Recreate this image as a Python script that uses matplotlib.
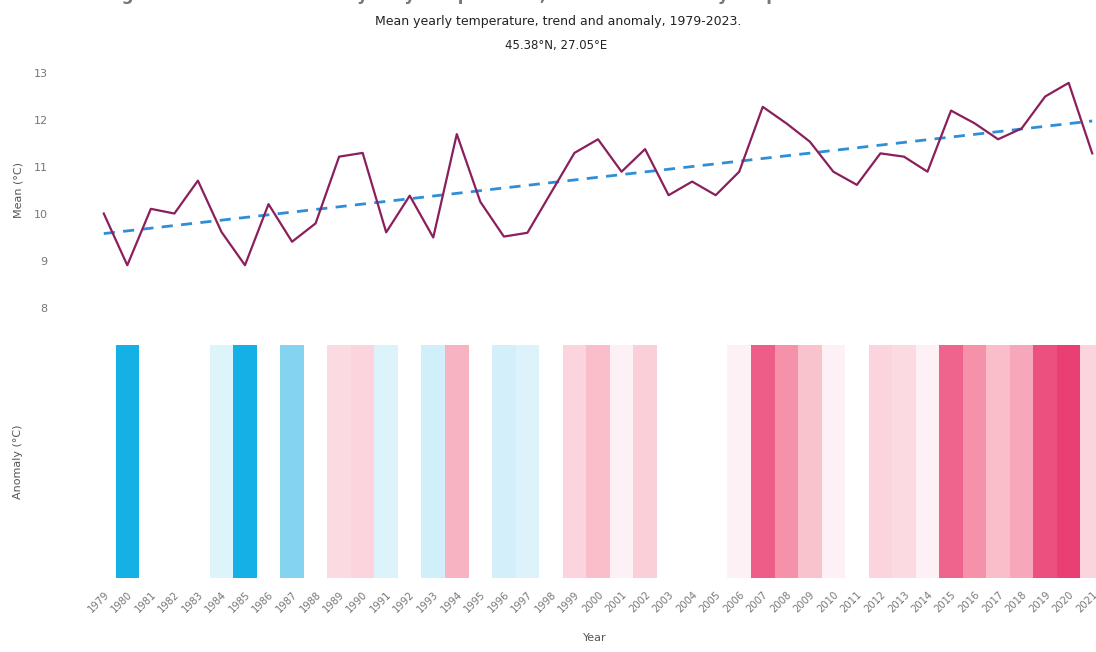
import numpy as np
import matplotlib
matplotlib.use("Agg")
import matplotlib.pyplot as plt
from matplotlib.colors import LinearSegmentedColormap, TwoSlopeNorm

# ---- data ----
years = list(range(1979, 2022))
temps = [10.01, 8.91, 10.11, 10.01, 10.71, 9.62, 8.91, 10.21, 9.41, 9.80,
         11.22, 11.30, 9.61, 10.39, 9.50, 11.70, 10.26, 9.52, 9.60, 10.45,
         11.30, 11.59, 10.90, 11.38, 10.40, 10.69, 10.40, 10.90, 12.28, 11.93,
         11.54, 10.90, 10.62, 11.29, 11.22, 10.90, 12.20, 11.93, 11.59, 11.82,
         12.50, 12.79, 11.29]
ytick_vals = [8, 9, 10, 11, 12, 13]
ytick_labels = ["8", "9", "10", "11", "12", "13"]
subtitle = "Mean yearly temperature, trend and anomaly, 1979-2023."
location = "45.38°N, 27.05°E"
top_title = "Climate change at the location: mean yearly temperature, trend and anomaly stripes"

x = np.array(years, dtype=float)
t = np.array(temps)
coef = np.polyfit(x, t, 1)
trend = np.polyval(coef, x)

# ---- figure ----
fig = plt.figure(figsize=(10.96, 6.52), dpi=100)
W, H = 1096.0, 652.0
left_px, right_px = 92, 1104
ax1 = fig.add_axes([left_px / W, 1 - 308 / H, (right_px - left_px) / W, 235 / H])
ax2 = fig.add_axes([left_px / W, 1 - 578 / H, (right_px - left_px) / W, 233 / H])

tick_color = "#777777"

# top: line + trend
ax1.plot(x, t, color="#8a1f5c", lw=1.6, zorder=3)
ax1.plot(x, trend, color="#2e8fd8", lw=2.0, linestyle=(0, (4, 3)), zorder=2)
ax1.set_xlim(1978.5, 2021.5)
ax1.set_ylim(8, 13)
ax1.set_yticks(ytick_vals)
ax1.set_yticklabels(ytick_labels)
ax1.set_xticks([])
ax1.tick_params(axis="y", length=0, pad=32, labelsize=8, labelcolor=tick_color)
for s in ax1.spines.values():
    s.set_visible(False)
ax1.set_ylabel("Mean (°C)", fontsize=8, color="#555555")
ax1.yaxis.set_label_coords(-0.068, 0.5)

# bottom: anomaly stripes
cmap = LinearSegmentedColormap.from_list("stripes", [
    (0.00, "#14b0e6"), (0.12, "#40bfec"), (0.19, "#86d4f1"), (0.205, "#cdeefa"),
    (0.27, "#dff4fb"), (0.31, "#ffffff"),
    (0.60, "#ffffff"), (0.64, "#fdeaf0"), (0.71, "#fcd3dc"), (0.76, "#f9c0cc"),
    (0.81, "#f7a6b9"), (0.83, "#f592aa"), (0.87, "#f06a90"), (0.90, "#ee5c86"),
    (1.00, "#ea3f72")])
norm = TwoSlopeNorm(vmin=8.9, vcenter=10.25, vmax=12.8)
colors = [cmap(norm(v)) for v in temps]
ax2.bar(x, [1.0] * len(x), width=1.0, bottom=0, color=colors, linewidth=0,
        edgecolor="none", antialiased=False)
ax2.set_xlim(1978.5, 2021.5)
ax2.set_ylim(0, 1)
ax2.set_yticks([])
ax2.set_xticks(x)
ax2.set_xticklabels([str(y) for y in years], rotation=45, ha="right",
                    rotation_mode="anchor", fontsize=7.2, color=tick_color)
ax2.tick_params(axis="x", length=0, pad=8)
for s in ax2.spines.values():
    s.set_visible(False)
ax2.set_ylabel("Anomaly (°C)", fontsize=8, color="#555555")
ax2.yaxis.set_label_coords(-0.068, 0.5)
ax2.set_xlabel("Year", fontsize=8, color="#555555")
ax2.xaxis.set_label_coords(0.497, -0.235)

# titles
fig.text(0.0, 1.008, top_title, ha="left", va="center", fontsize=12,
         fontweight="bold", color="#777777")
fig.text(0.509, 1 - 22 / H, subtitle, ha="center", va="center", fontsize=9, color="#222222")
fig.text(0.507, 1 - 45 / H, location, ha="center", va="center", fontsize=8.5, color="#222222")

fig.savefig("out.png", dpi=100)
